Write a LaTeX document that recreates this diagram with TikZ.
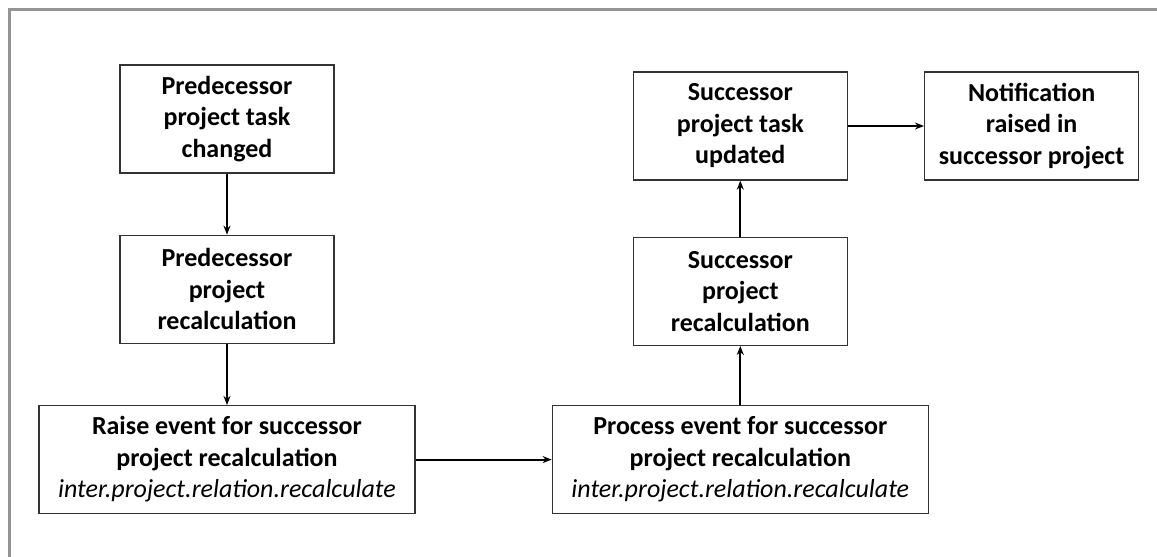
\documentclass[tikz,border=0pt]{standalone}
\usepackage{fontspec}
\setmainfont{Carlito}
\usetikzlibrary{arrows.meta, positioning}

\begin{document}
\begin{tikzpicture}[
    x=1pt, y=-1pt,
    node distance=61pt and 136pt,
    box/.style={rectangle, draw=black!80, line width=1.3pt, minimum width=214pt, minimum height=108pt, inner sep=0pt, align=center, font=\fontsize{26}{31.5}\selectfont\bfseries},
    widebox/.style={box, minimum width=376pt},
    arrow/.style={-{Stealth[length=9pt, width=7pt]}, line width=2pt}
]
\useasboundingbox (0,0) rectangle (1157,557);

% frame
\draw[black!42, line width=3pt] (9.5,570) -- (9.5,9.5) -- (1170,9.5);

\node[box] (predtask) at (227,119) {Predecessor\\project task\\changed};
\node[box, below=of predtask]        (predcalc) {Predecessor\\project\\recalculation};
\node[widebox, below=of predcalc]    (raise)    {Raise event for successor\\project recalculation\\{\mdseries\itshape inter.project.relation.recalculate}};
\node[widebox, right=of raise]       (process)  {Process event for successor\\project recalculation\\{\mdseries\itshape inter.project.relation.recalculate}};
\node[box, above=59pt of process]    (succcalc) {Successor\\project\\recalculation};
\node[box, above=56pt of succcalc]   (succtask) {Successor\\project task\\updated};
\node[box, right=76pt of succtask]   (notify)   {Notification\\raised in\\successor project};

\draw[arrow] (predtask) -- (predcalc);
\draw[arrow] (predcalc) -- (raise);
\draw[arrow] (raise)    -- (process);
\draw[arrow] (process)  -- (succcalc);
\draw[arrow] (succcalc) -- (succtask);
\draw[arrow] (succtask) -- (notify);

\end{tikzpicture}
\end{document}
